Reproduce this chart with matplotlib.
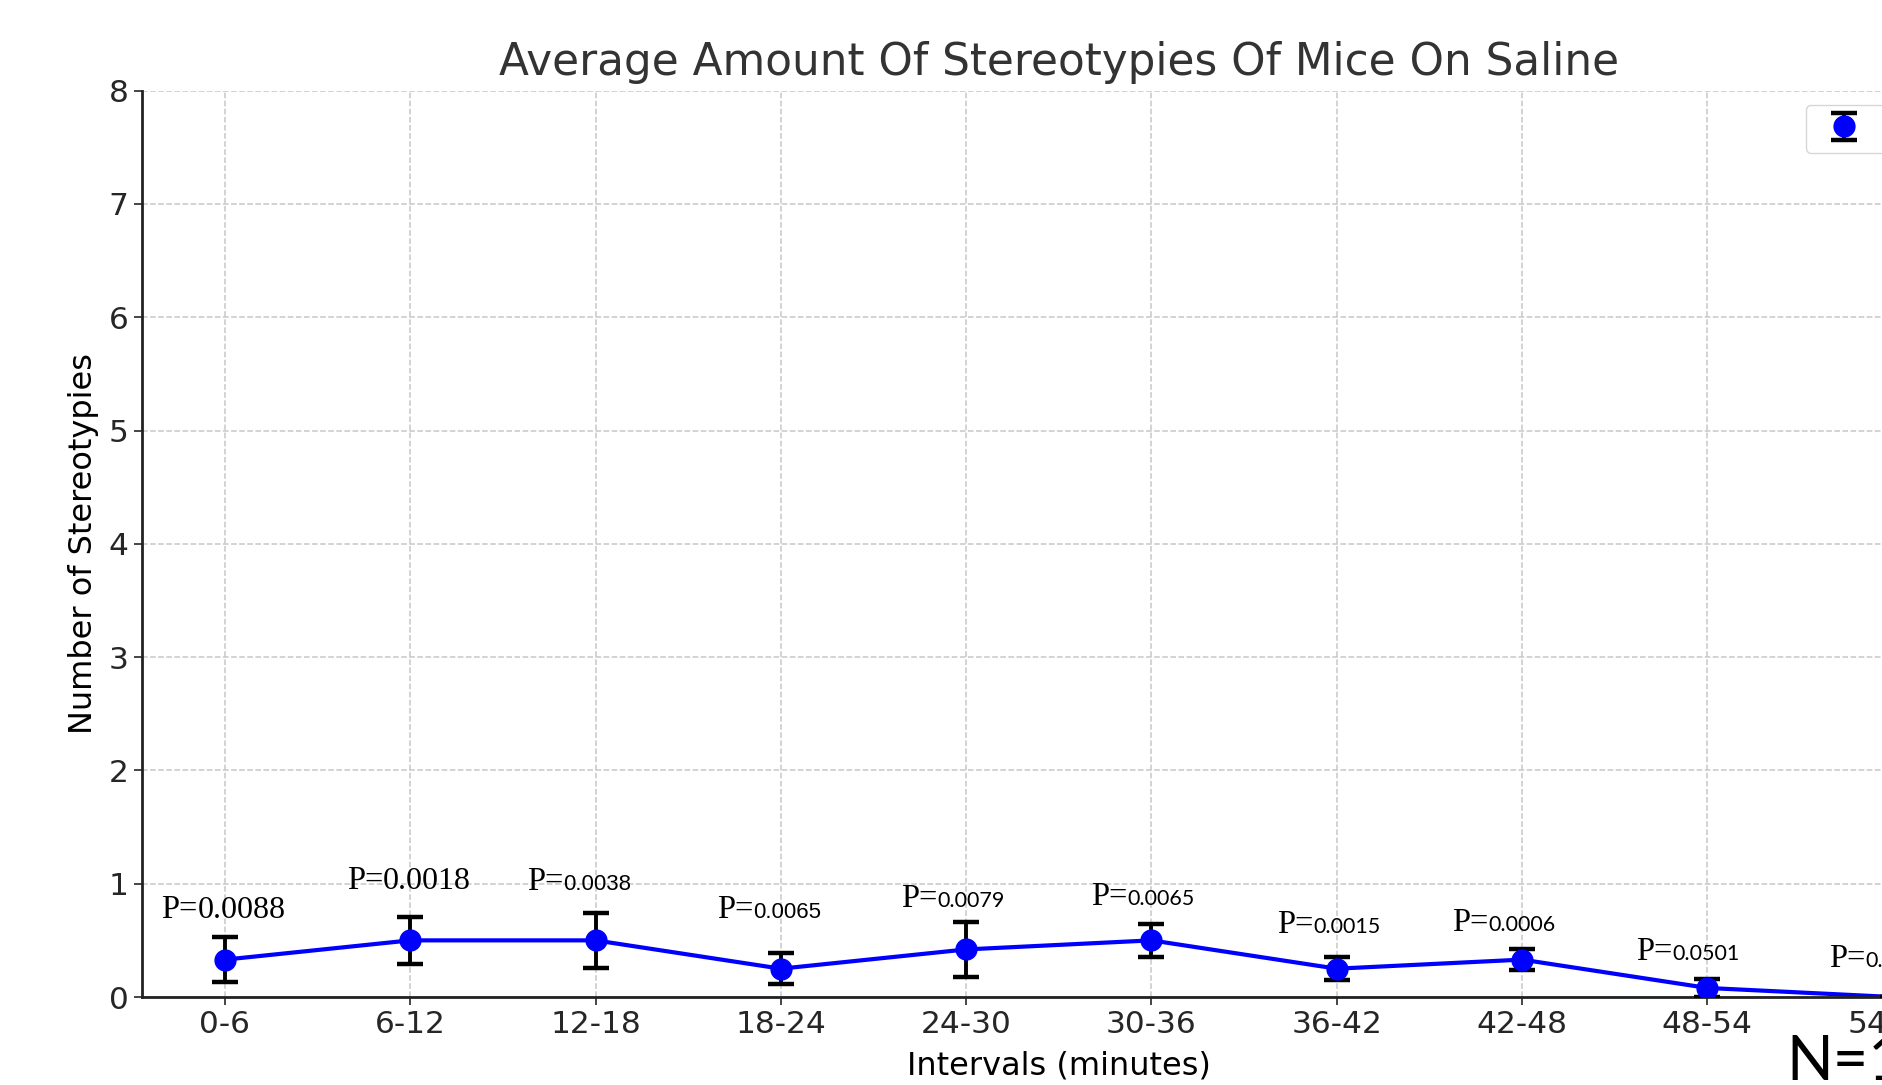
import matplotlib
matplotlib.use("Agg")
import matplotlib.pyplot as plt

# data
intervals = ["0-6", "6-12", "12-18", "18-24", "24-30", "30-36",
             "36-42", "42-48", "48-54", "54-60"]
mean_stereo = [0.33, 0.50, 0.50, 0.25, 0.42, 0.50, 0.25, 0.33, 0.08, 0.0]
sem_stereo = [0.20, 0.21, 0.24, 0.135, 0.245, 0.145, 0.10, 0.095, 0.08, 0.0]

p_values = ["0.0088", "0.0018", "0.0038", "0.0065", "0.0079", "0.0065",
            "0.0015", "0.0006", "0.0501", "0.0588"]
# where each P label sits: baseline height (data units) and shift from tick
p_label_y = [0.698, 0.954, 0.945, 0.698, 0.795, 0.812, 0.565, 0.583, 0.327, 0.265]
p_label_dx = [-0.149, -0.146, -0.174, -0.148, -0.156, -0.130, -0.126, -0.182, -0.189, -0.147]
# font used for the number part of each label (the labels were pasted in by hand)
p_num_font = ["Liberation Serif", "Liberation Serif", "Liberation Sans", "Liberation Sans",
              "Lato", "Lato", "Lato", "Lato", "Lato", "Lato"]
p_num_size = [23, 23, 16, 16, 15.5, 15.5, 15.5, 15.5, 15.5, 15.5]

plt.rcParams['font.family'] = 'DejaVu Sans'
plt.rcParams['text.color'] = '#262626'
plt.rcParams['xtick.color'] = '#262626'
plt.rcParams['ytick.color'] = '#262626'

fig = plt.figure(figsize=(18.83, 10.85), dpi=100)
# the original chart was cropped on the right, so the axes run past the edge
ax = fig.add_axes([0.0752, 0.0811, 0.9742, 0.8353])

x = list(range(len(intervals)))
# connecting line (no legend entry), then points with error bars
ax.plot(x, mean_stereo, color='blue', linewidth=3, zorder=2)
ax.errorbar(x, mean_stereo, yerr=sem_stereo, fmt='o', color='blue',
            ecolor='black', elinewidth=2.8, capsize=9.5, capthick=3.2,
            markersize=15, label='Mean \u00b1 SEM', zorder=3)

ax.set_xticks(x)
ax.set_xticklabels(intervals)
ax.set_xlim(-0.45, 9.45)
ax.set_ylim(0, 8)

ax.set_title("Average Amount Of Stereotypies Of Mice On Saline", fontsize=31.5,
             color='#333333', pad=11)
ax.set_xlabel("Intervals (minutes)", fontsize=23, labelpad=8)
ax.set_ylabel("Number of Stereotypies", fontsize=23, labelpad=7)

ax.tick_params(axis='both', labelsize=22.5, length=6, width=1.2)
ax.grid(True, linestyle='--', color='#c8c8c8', linewidth=1.1)
ax.set_axisbelow(True)
for side in ['top', 'right']:
    ax.spines[side].set_visible(False)
for side in ['left', 'bottom']:
    ax.spines[side].set_linewidth(2)
    ax.spines[side].set_color('#222222')

# P value labels: serif "P=" then the number
for i, pv in enumerate(p_values):
    xp = x[i] + p_label_dx[i]
    ax.text(xp, p_label_y[i], "P=", family='Liberation Serif', fontsize=23.5,
            color='black', ha='right', va='baseline')
    ax.text(xp, p_label_y[i], pv, family=p_num_font[i], fontsize=p_num_size[i],
            color='black', ha='left', va='baseline')

ax.legend(loc='upper left', bbox_to_anchor=(0.9073, 0.9842), borderaxespad=0,
          fontsize=19.5, frameon=True, edgecolor='#cccccc')

fig.text(1786 / 1883, 5 / 1085, "N=12", family='Lato', fontsize=44,
         color='black', ha='left', va='baseline')

plt.savefig("out.png", dpi=100)
